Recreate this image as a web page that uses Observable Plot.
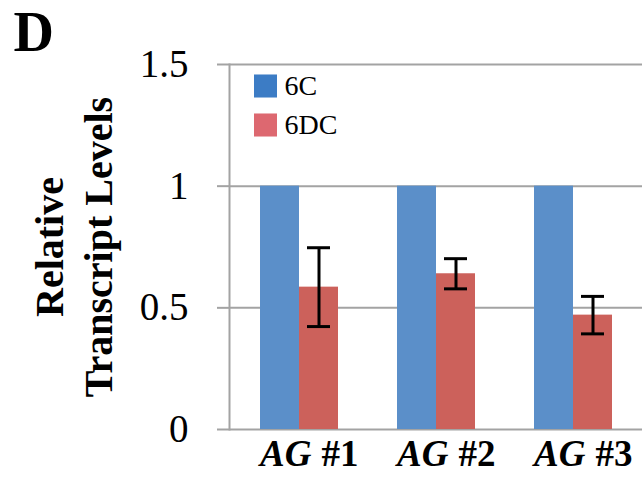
<!DOCTYPE html>
<html><head><meta charset="utf-8">
<script src="https://cdn.jsdelivr.net/npm/d3@7"></script>
<script src="https://cdn.jsdelivr.net/npm/@observablehq/plot@0.6"></script>
<style>
body{margin:0;background:#fff}
</style>
</head><body><div id="chart"></div>
<script>
const genes = ["AG #1", "AG #2", "AG #3"];
const series = ["6C", "6DC"];
const values6C = [1, 1, 1];
const values6DC = [0.585, 0.64, 0.47];
const errors6DC = [0.162, 0.062, 0.077];
const yTicks = [0, 0.5, 1, 1.5];
const panelLetter = "D";
const yTitle = ["Relative", "Transcript Levels"];
const barColors = ["#5B8FC9", "#CC615B"];
const legendColors = ["#3C7CC5", "#DD6870"];

const rows6C = genes.map((g, i) => ({gene: g, value: values6C[i]}));
const rows6DC = genes.map((g, i) => ({gene: g, value: values6DC[i], err: errors6DC[i]}));
const labelParts = genes.map(g => ({gene: g, ital: g.split(" ")[0], num: g.split(" ")[1]}));

const FF = "Liberation Serif, DejaVu Serif, serif";

const plot = Plot.plot({
  width: 642, height: 483,
  marginLeft: 229, marginRight: 0, marginTop: 64, marginBottom: 54,
  style: {background: "#fff", color: "#000", overflow: "visible", fontFamily: FF},
  x: {domain: genes, paddingInner: 0.433, paddingOuter: 0.2165, axis: null},
  y: {domain: [0, 1.5], axis: null},
  marks: [
    Plot.ruleY(yTicks, {stroke: "#a3a3a3", strokeWidth: 2}),
    Plot.axisY({ticks: yTicks, tickSize: 12, tickPadding: 29, fontSize: 39, fontFamily: FF, stroke: "#a3a3a3", strokeWidth: 2, fill: "#000", tickFormat: d => String(d), label: null}),
    Plot.barY(rows6C, {x: "gene", y: "value", fill: barColors[0], insetRight: 39}),
    Plot.barY(rows6DC, {x: "gene", y: "value", fill: barColors[1], insetLeft: 39}),
    Plot.frame({anchor: "left", stroke: "#a3a3a3", strokeWidth: 2}),
    Plot.ruleX(rows6DC, {x: "gene", y1: d => d.value - d.err, y2: d => d.value + d.err, dx: 19.5, stroke: "#000", strokeWidth: 3}),
    Plot.tickY(rows6DC, {x: "gene", y: d => d.value + d.err, insetLeft: 47, insetRight: 8, stroke: "#000", strokeWidth: 3}),
    Plot.tickY(rows6DC, {x: "gene", y: d => d.value - d.err, insetLeft: 47, insetRight: 8, stroke: "#000", strokeWidth: 3}),
    Plot.text(labelParts, {x: "gene", text: "ital", frameAnchor: "bottom", lineAnchor: "bottom", textAnchor: "end", dx: 12, dy: 36, fontSize: 37, fontFamily: FF, fontWeight: "bold", fontStyle: "italic", fill: "#000"}),
    Plot.text(labelParts, {x: "gene", text: "num", frameAnchor: "bottom", lineAnchor: "bottom", textAnchor: "start", dx: 22, dy: 36, fontSize: 37, fontFamily: FF, fontWeight: "bold", fill: "#000"}),
    Plot.dot([series[0]], {frameAnchor: "top-left", dx: 36, dy: 21.5, symbol: "square", r: 13, fill: legendColors[0]}),
    Plot.dot([series[1]], {frameAnchor: "top-left", dx: 36, dy: 60.5, symbol: "square", r: 13, fill: legendColors[1]}),
    Plot.text([series[0]], {text: d => d, frameAnchor: "top-left", dx: 55, dy: 21.5, textAnchor: "start", lineAnchor: "middle", fontSize: 28, fontFamily: FF, fill: "#000"}),
    Plot.text([series[1]], {text: d => d, frameAnchor: "top-left", dx: 55, dy: 60.5, textAnchor: "start", lineAnchor: "middle", fontSize: 28, fontFamily: FF, fill: "#000"}),
    Plot.text([yTitle[0]], {text: d => d, frameAnchor: "left", dx: -167, rotate: -90, lineAnchor: "bottom", textAnchor: "middle", fontSize: 40, fontFamily: FF, fontWeight: "bold", fill: "#000"}),
    Plot.text([yTitle[1]], {text: d => d, frameAnchor: "left", dx: -118, rotate: -90, lineAnchor: "bottom", textAnchor: "middle", fontSize: 40, fontFamily: FF, fontWeight: "bold", fill: "#000"}),
    Plot.text([panelLetter], {text: d => d, frameAnchor: "top-left", dx: -216, dy: -14, lineAnchor: "bottom", textAnchor: "start", fontSize: 56, fontFamily: FF, fontWeight: "bold", fill: "#000"})
  ]
});
document.getElementById("chart").appendChild(plot);
</script>
</body></html>
